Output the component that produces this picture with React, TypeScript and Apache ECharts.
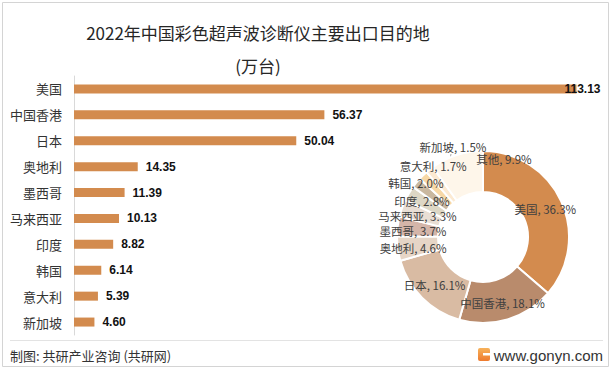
import React, { useEffect, useRef } from 'react';
import * as echarts from 'echarts';

const categories = ['美国', '中国香港', '日本', '奥地利', '墨西哥', '马来西亚', '印度', '韩国', '意大利', '新加坡'];
const exportValues = [113.13, 56.37, 50.04, 14.35, 11.39, 10.13, 8.82, 6.14, 5.39, 4.6];
const otherName = '其他';
const otherValue = 30.9;
const titleLines = ['2022年中国彩色超声波诊断仪主要出口目的地', '(万台)'];
const sourceText = '制图: 共研产业咨询 (共研网)';
const siteText = 'www.gonyn.com';

const barColor = '#D38B4E';
const pieColors = [
  '#D38B4E', '#B98B6C', '#D9BBA3', '#E6D5C6', '#D4B5A9', '#E9DED4',
  '#DDD7C5', '#C9B8A0', '#F7D8A6', '#FCEAD2', '#FEF6EA',
];

const pieLabelAdjust: Record<number, any> = {
  3: { dx: -2, dy: 2 },
  4: { dx: -2, dy: 2.5 },
  5: { dx: -1, dy: 1.7 },
  6: { dx: -2, dy: -1.5 },
  7: { dx: -14, dy: -11 },
  8: { dx: -2, dy: -22 },
  9: {
    x: 453, y: 147, align: 'center', verticalAlign: 'middle',
    labelLinePoints: [[444, 184], [448, 170], [451, 154]],
  },
  10: { dx: 42, dy: -13 },
};

export default function App() {
  const ref = useRef<HTMLDivElement>(null);
  useEffect(() => {
    document.body.style.margin = '0';
    const chart = echarts.init(ref.current!, null, { renderer: 'svg' });
    const font = '"Noto Sans CJK SC", "Noto Sans", sans-serif';
    const pieData = categories
      .map((name, i) => ({
        name,
        value: exportValues[i],
        itemStyle: { color: pieColors[i] },
        ...(i === 9
          ? { label: { position: 'outside' }, labelLine: { show: true, showAbove: true } }
          : {}),
      }))
      .concat([{ name: otherName, value: otherValue, itemStyle: { color: pieColors[10] } } as any]);

    chart.setOption({
      animation: false,
      backgroundColor: '#fff',
      textStyle: { fontFamily: font },
      grid: { left: 74, top: 76, width: 533, height: 259, containLabel: false },
      xAxis: { type: 'value', min: 0, max: 120, show: false },
      yAxis: {
        type: 'category',
        data: categories,
        inverse: true,
        axisTick: { show: false },
        axisLine: { lineStyle: { color: '#D9D9D9', width: 1 } },
        axisLabel: { color: '#333', fontSize: 13, margin: 12, fontFamily: font },
      },
      series: [
        {
          type: 'bar',
          data: exportValues.map((v, i) =>
            i === 0 ? { value: v, label: { distance: -12 } } : v
          ),
          barWidth: 9,
          itemStyle: { color: barColor },
          label: {
            show: true,
            position: 'right',
            distance: 8,
            color: '#111',
            fontWeight: 'bold',
            fontSize: 12,
            fontFamily: '"Liberation Sans", Arial, sans-serif',
            formatter: (p: any) => Number(p.value).toFixed(2),
          },
          z: 2,
        },
        {
          type: 'pie',
          center: [483, 237],
          radius: [45, 86],
          startAngle: 90,
          clockwise: true,
          percentPrecision: 1,
          avoidLabelOverlap: false,
          itemStyle: { borderColor: '#fff', borderWidth: 2 },
          label: {
            show: true,
            position: 'inside',
            formatter: (p: any) => `${p.name}, ${Number(p.percent).toFixed(1)}%`,
            color: '#404040',
            fontSize: 11.5,
            lineHeight: 12,
            fontFamily: font,
          },
          labelLine: {
            show: false,
            showAbove: true,
            length: 4,
            length2: 4,
            lineStyle: { color: '#A6A6A6', width: 1 },
          },
          labelLayout: (params: any) => pieLabelAdjust[params.dataIndex] || {},
          data: pieData,
          z: 3,
        },
      ],
      graphic: [
        {
          type: 'rect',
          shape: { x: 2.5, y: 2.5, width: 606, height: 364 },
          style: { fill: 'none', stroke: '#D4D4D4', lineWidth: 1 },
          silent: true,
        },
        {
          type: 'text',
          x: 258,
          y: 32,
          style: {
            text: titleLines[0],
            fill: '#262626',
            font: `17px ${font}`,
            textAlign: 'center',
            textVerticalAlign: 'middle',
          },
        },
        {
          type: 'text',
          x: 258,
          y: 65,
          style: {
            text: titleLines[1],
            fill: '#262626',
            font: `17px ${font}`,
            textAlign: 'center',
            textVerticalAlign: 'middle',
          },
        },
        {
          type: 'line',
          shape: { x1: 10, y1: 340.5, x2: 603, y2: 340.5 },
          style: { stroke: '#E3E3E3', lineWidth: 1 },
        },
        {
          type: 'text',
          x: 10,
          y: 355,
          style: {
            text: sourceText,
            fill: '#333',
            font: `13px ${font}`,
            textAlign: 'left',
            textVerticalAlign: 'middle',
          },
        },
        {
          type: 'text',
          x: 603,
          y: 355,
          style: {
            text: siteText,
            fill: '#333',
            font: `15px "Liberation Sans", Arial, sans-serif`,
            textAlign: 'right',
            textVerticalAlign: 'middle',
          },
        },
        {
          type: 'rect',
          shape: { x: 478, y: 348, width: 12, height: 13, r: 2 },
          style: {
            fill: new echarts.graphic.LinearGradient(0, 0, 0, 1, [
              { offset: 0, color: '#F7B25A' },
              { offset: 1, color: '#EE7A2E' },
            ]),
          },
        },
        {
          type: 'rect',
          shape: { x: 483, y: 353, width: 7, height: 2.5 },
          style: { fill: '#fff' },
        },
      ],
    });
    return () => chart.dispose();
  }, []);
  return <div ref={ref} style={{ width: 613, height: 369 }} />;
}
